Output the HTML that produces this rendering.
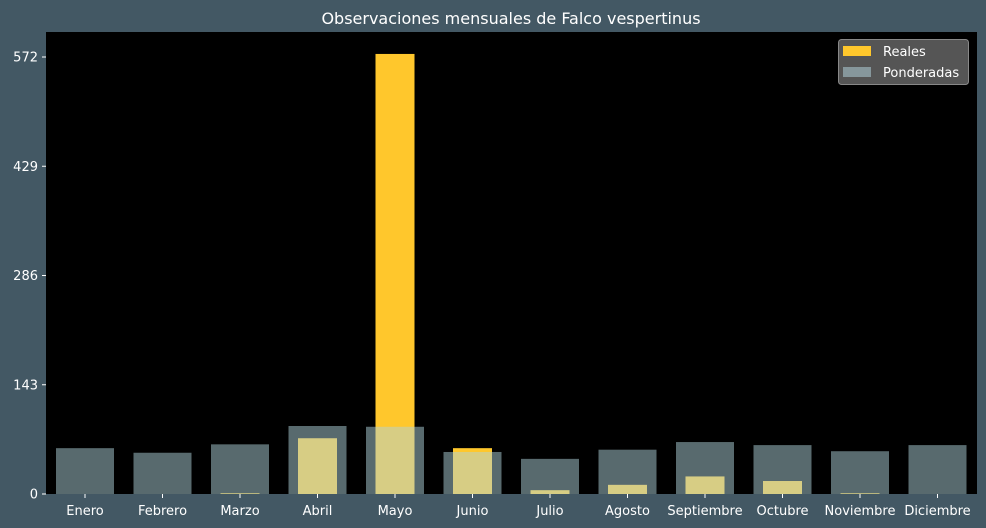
<!DOCTYPE html>
<html><head><meta charset="utf-8"><style>
html,body{margin:0;padding:0;background:#435864;}
svg{display:block;font-family:"DejaVu Sans","Liberation Sans",sans-serif;}
</style></head><body>
<svg id="chart" width="986" height="528">
<rect x="0" y="0" width="986" height="528" fill="#435864"/>
<text x="511" y="24" fill="#fff" font-size="16" text-anchor="middle">Observaciones mensuales de Falco vespertinus</text>
<rect x="46" y="32" width="931" height="462" fill="#000"/>
<g id="bars"></g>
<g id="axes"></g>
<g>
<rect x="838.5" y="39.5" width="130" height="45" rx="3" fill="#555" stroke="#888"/>
<rect x="843" y="46" width="28" height="10" fill="#ffc72c"/>
<text x="883" y="56" fill="#fff" font-size="13">Reales</text>
<rect x="843" y="67" width="28" height="10" fill="#86979c"/>
<text x="883" y="77" fill="#fff" font-size="13">Ponderadas</text>
</g>
</svg>
<script>
const categories=["Enero","Febrero","Marzo","Abril","Mayo","Junio","Julio","Agosto","Septiembre","Octubre","Noviembre","Diciembre"];
const realValues=[0,0,1,73,576,60,5,12,23,17,1,0];
const weightedValues=[60,54,65,89,88,55,46,58,68,64,56,64];
const yTicks=[0,143,286,429,572];
const NS="http://www.w3.org/2000/svg";
const x0=46,x1=977,yBase=494,yTop=32;
function xc(i){return 85+i*77.5;}
function ys(v){return yBase-v*(109.25/143);}
const bars=document.getElementById('bars'),axes=document.getElementById('axes');
function mk(t,a,p){const e=document.createElementNS(NS,t);for(const k in a)e.setAttribute(k,a[k]);p.appendChild(e);return e;}
categories.forEach((c,i)=>{
  const r=mk('rect',{x:xc(i)-19.5,y:ys(realValues[i]),width:39,height:yBase-ys(realValues[i]),fill:'#ffc72c'},bars);
  
  
});
categories.forEach((c,i)=>{
  const r=mk('rect',{x:xc(i)-29,y:ys(weightedValues[i]),width:58,height:yBase-ys(weightedValues[i]),fill:'rgba(176,212,220,0.5)'},bars);
  
  
});
const sp=mk('line',{x1:x0,x2:x1,y1:yBase+0.5,y2:yBase+0.5,stroke:'#435864','stroke-width':1},axes);


categories.forEach((c,i)=>{
  mk('line',{x1:xc(i),x2:xc(i),y1:yBase,y2:yBase+4,stroke:'#fff'},axes);
  const t=mk('text',{x:xc(i),y:515,fill:'#fff','font-size':13,'text-anchor':'middle'},axes);
  t.textContent=c;
  
  
});
yTicks.forEach(v=>{
  mk('line',{x1:x0-4,x2:x0,y1:ys(v),y2:ys(v),stroke:'#fff'},axes);
  const t=mk('text',{x:x0-8,y:ys(v)+4.5,fill:'#fff','font-size':13,'text-anchor':'end'},axes);
  t.textContent=v;
  
  
});
</script>
</body></html>
